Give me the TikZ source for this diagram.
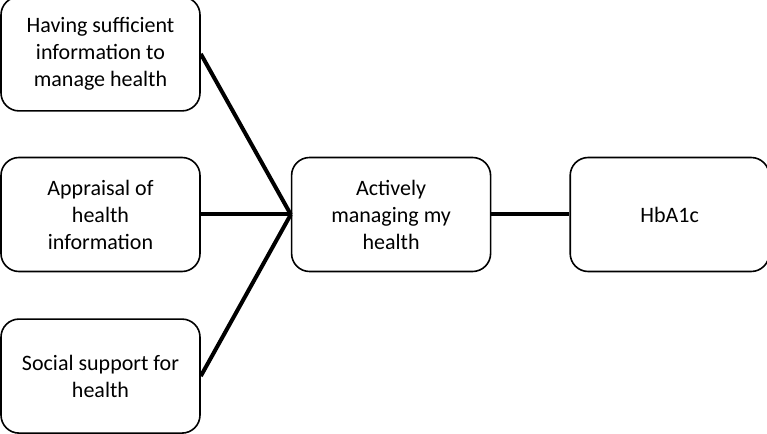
\documentclass[tikz,border=0pt]{standalone}
\usepackage{fontspec}
\setmainfont{Carlito}
\usepackage{tikz}
\usetikzlibrary{positioning}

\begin{document}
\begin{tikzpicture}[
    box/.style={rectangle, draw, line width=0.8pt, rounded corners=9pt, minimum width=99.5pt, minimum height=57pt, align=center, font=\fontsize{11}{13.5}\selectfont},
    link/.style={line width=2pt}
]
\useasboundingbox (-50.25pt,-109.75pt) rectangle (333.25pt,107.25pt);

\node[box] (appraisal) at (0,0) {Appraisal of\\health\\information};
\node[box, above=22.5pt of appraisal] (info) {Having sufficient\\information to\\manage health};
\node[box, below=23pt of appraisal] (social) {Social support for\\health};
\node[box, right=45pt of appraisal] (active) {Actively\\managing my\\health};
\node[box, right=39pt of active] (hba) {HbA1c};

\draw[link] (info.east) -- (active.west);
\draw[link] (appraisal) -- (active);
\draw[link] (social.east) -- (active.west);
\draw[link] (active) -- (hba);
\end{tikzpicture}
\end{document}
